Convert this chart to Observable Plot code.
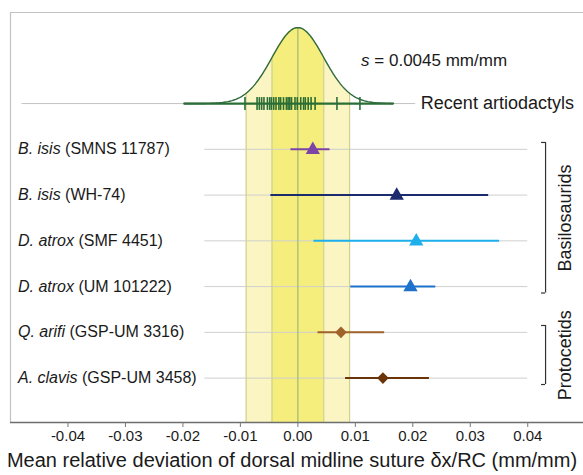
<!DOCTYPE html>
<html>
<head>
<meta charset="utf-8">
<script src="https://cdn.jsdelivr.net/npm/d3@7"></script>
<script src="https://cdn.jsdelivr.net/npm/@observablehq/plot@0.6"></script>
<style>
  html, body { margin: 0; padding: 0; background: #fff; }
  #chart { width: 583px; height: 475px; overflow: hidden; }
</style>
</head>
<body>
<div id="chart"></div>
<script>
// ---- data ----
const taxa = ["B. isis", "B. isis", "D. atrox", "D. atrox", "Q. arifi", "A. clavis"];
const specimenIds = ["SMNS 11787", "WH-74", "SMF 4451", "UM 101222", "GSP-UM 3316", "GSP-UM 3458"];
const means = [0.0026, 0.0172, 0.0206, 0.0196, 0.0075, 0.0148];
const lows  = [-0.0012, -0.0047, 0.0028, 0.0092, 0.0035, 0.0083];
const highs = [0.0056, 0.0332, 0.0351, 0.0240, 0.0151, 0.0229];
const colors = ["#7b44a6", "#1c2a6e", "#1fb0ec", "#1f72cc", "#a0622a", "#6a3408"];
const shapes = ["triangle", "triangle", "triangle", "triangle", "diamond2", "diamond2"];
const groups = ["Basilosaurids", "Basilosaurids", "Basilosaurids", "Basilosaurids", "Protocetids", "Protocetids"];
const recentLabel = "Recent artiodactyls";
const recentValues = [-0.0092, -0.0071, -0.0067, -0.0063, -0.0059, -0.0053, -0.0049, -0.0046, -0.0042,
  -0.0038, -0.0033, -0.0030, -0.0025, -0.0020, -0.0017, -0.0014, -0.0011, -0.0005, -0.0001,
  0.0005, 0.0010, 0.0013, 0.0018, 0.0023, 0.0030, 0.0068, 0.0108];
const s = 0.0045;           // standard deviation of recent artiodactyls
const curveRange = [-0.0198, 0.0167];
const xTicks = [-0.04, -0.03, -0.02, -0.01, 0.00, 0.01, 0.02, 0.03, 0.04];
const xTitle = "Mean relative deviation of dorsal midline suture δx/RC (mm/mm)";
const sLabel = "s = 0.0045 mm/mm";

// ---- derived tables ----
const labels = taxa.map((t, i) => `${t} (${specimenIds[i]})`);
const rows = taxa.map((t, i) => ({
  label: labels[i], row: i + 1, mean: means[i], lo: lows[i], hi: highs[i],
  color: colors[i], shape: shapes[i], group: groups[i]
}));
const groupNames = Array.from(new Set(groups));
const brackets = groupNames.map(g => {
  const r = rows.filter(d => d.group === g);
  return {group: g, y1: r[0].row - 0.15, y2: r[r.length - 1].row + 0.14, mid: (r[0].row + r[r.length - 1].row) / 2};
});

const peak = 1.66; // curve height in row units
const step = s / 20;
const curve = d3.range(Math.round(curveRange[0] / step), Math.round(curveRange[1] / step) + 1)
  .map(k => ({x: k * step, k, y: -peak * Math.exp(-0.5 * (k * step / s) ** 2)}));
const hAt = x => -peak * Math.exp(-0.5 * (x / s) ** 2);

const yTop = -1.99, yBot = 6.97;
const xLeft = -0.05;

const bandLine = "#cfd28e";
const pale = "#faf5c2";
const bright = "#f6ee7c";
const green = "#2a6e36";
const ink = "#1a1a1a";

const plot = Plot.plot({
  width: 583,
  height: 475,
  marginTop: 12,
  marginBottom: 53,
  marginLeft: 10,
  marginRight: 0,
  style: {fontFamily: "'Liberation Sans', Arial, sans-serif", fontSize: "16px", color: ink, background: "#fff"},
  x: {domain: [xLeft, 0.0497], axis: null},
  y: {domain: [yBot, yTop], axis: null},
  color: {type: "identity"},
  marks: [
    // bands below the baseline
    Plot.rect([{x1: -2 * s, x2: 2 * s}], {x1: "x1", x2: "x2", y1: 0, y2: yBot, fill: pale}),
    Plot.rect([{x1: -s, x2: s}], {x1: "x1", x2: "x2", y1: 0, y2: yBot, fill: bright}),
    // area under curve
    Plot.areaY(curve.filter(d => Math.abs(d.k) <= 40), {x: "x", y1: 0, y2: "y", fill: pale}),
    Plot.areaY(curve.filter(d => Math.abs(d.k) <= 20), {x: "x", y1: 0, y2: "y", fill: bright}),
    // grey row lines
    Plot.ruleY([0], {x1: -0.048, x2: 0.0205, stroke: "#c4c4c4", strokeWidth: 1}),
    Plot.ruleY(rows, {y: "row", x1: -0.0162, x2: 0.04, stroke: "#cfcfcf", strokeWidth: 1}),
    // band edge lines
    Plot.ruleX([-2 * s, -s, s, 2 * s], {x: d => d, y1: d => hAt(d), y2: yBot, stroke: bandLine, strokeWidth: 1.2}),
    Plot.ruleX([0], {y1: -peak, y2: yBot, stroke: "#a9ba78", strokeWidth: 1.3}),
    // baseline and curve
    Plot.ruleY([0], {x1: curveRange[0], x2: curveRange[1], stroke: green, strokeWidth: 2.2}),
    Plot.line(curve, {x: "x", y: "y", stroke: "#2f6b3c", strokeWidth: 1.4}),
    // rug
    Plot.ruleX(recentValues, {x: d => d, y1: -0.13, y2: 0.15, stroke: green, strokeWidth: 1.6}),
    // error bars and means
    Plot.ruleY(rows, {y: "row", x1: "lo", x2: "hi", stroke: "color", strokeWidth: 2}),
    Plot.dot(rows.filter(d => d.shape === "triangle"), {x: "mean", y: "row", symbol: "triangle", r: 5.3, fill: "color", stroke: "none", dy: 0.5}),
    Plot.dot(rows.filter(d => d.shape === "diamond2"), {x: "mean", y: "row", symbol: "diamond2", r: 5.2, fill: "color", stroke: "none"}),
    // row labels
    Plot.text(rows, {x: -0.0487, y: "row", text: "label", textAnchor: "start", fontSize: 16, fill: ink}),
    Plot.text([recentLabel], {x: 0.0214, y: 0, text: d => d, textAnchor: "start", fontSize: 18, fill: ink}),
    Plot.text([sLabel], {x: 0.011, y: -0.94, text: d => d, textAnchor: "start", fontSize: 17, fill: ink}),
    // brackets
    Plot.ruleX(brackets, {x: 0.0431, y1: "y1", y2: "y2", stroke: "#333", strokeWidth: 1.2}),
    Plot.ruleY(brackets, {y: "y1", x1: 0.0424, x2: 0.0431, stroke: "#333", strokeWidth: 1.2}),
    Plot.ruleY(brackets, {y: "y2", x1: 0.0424, x2: 0.0431, stroke: "#333", strokeWidth: 1.2}),
    Plot.text(brackets, {x: 0.0466, y: "mid", text: "group", rotate: -90, fontSize: 18, fill: ink}),
    // frame
    Plot.ruleY([yTop], {stroke: "#c2c2c2", strokeWidth: 1.2}),
    Plot.ruleX([xLeft], {y1: yTop, y2: yBot, stroke: "#c2c2c2", strokeWidth: 1.2}),
    Plot.ruleY([yBot], {stroke: "#6e6e6e", strokeWidth: 1.3}),
    // axis
    Plot.axisX(xTicks, {tickFormat: d => d.toFixed(2), tickSize: 5, tickPadding: 3, fontSize: 15, label: null, stroke: "#777", fill: ink}),
    Plot.text([xTitle], {frameAnchor: "bottom", dy: 44, dx: -5, text: d => d, fontSize: 20, fill: ink})
  ]
});

// italic parts of labels
const ns = "http://www.w3.org/2000/svg";
plot.querySelectorAll("text").forEach(t => {
  const txt = t.textContent;
  const i = labels.indexOf(txt);
  if (i >= 0) {
    t.textContent = "";
    const it = document.createElementNS(ns, "tspan");
    it.setAttribute("font-style", "italic");
    it.textContent = taxa[i];
    t.appendChild(it);
    t.appendChild(document.createTextNode(` (${specimenIds[i]})`));
  } else if (txt === sLabel) {
    t.textContent = "";
    const it = document.createElementNS(ns, "tspan");
    it.setAttribute("font-style", "italic");
    it.textContent = sLabel.slice(0, 1);
    t.appendChild(it);
    t.appendChild(document.createTextNode(sLabel.slice(1)));
  }
});

document.getElementById("chart").appendChild(plot);
</script>
</body>
</html>
